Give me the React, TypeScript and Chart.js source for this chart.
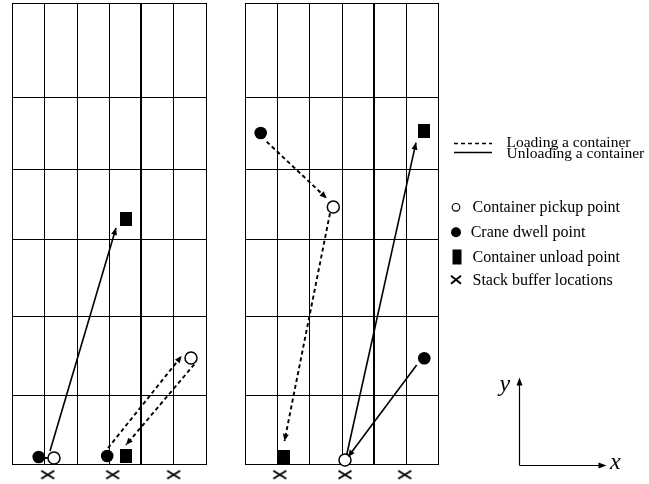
import React, { useEffect, useRef } from "react";
import { Chart, registerables } from "chart.js";

Chart.register(...registerables);

// ---- Data (in yard grid units: 1 unit = one stack column) ----
const panelOffsets = [0, 7.215];
const gridColumns = [0, 1, 2, 3, 4, 5, 6];
const gridRows = [0, 2.139, 4.588, 6.984, 9.145, 11.367, 14.29];
const heavyColumn = 4;

const pickupX = [1.302, 5.549, 9.96, 10.322];
const pickupY = [0.186, 3.286, 7.967, 0.124];

const dwellX = [0.828, 2.951, 7.709, 12.78];
const dwellY = [0.217, 0.248, 10.26, 3.277];

const unloadX = [3.525, 3.525, 8.431, 12.771];
const unloadY = [7.595, 0.242, 0.207, 10.322];

const stackX = [1.107, 3.121, 5.012, 8.301, 10.322, 12.173];
const stackY = [-0.332, -0.332, -0.332, -0.332, -0.332, -0.332];

const arrowStartX = [1.023, 1.178, 2.976, 5.651, 7.895, 9.857, 10.353, 12.545];
const arrowStartY = [0.186, 0.403, 0.496, 3.09, 9.991, 7.771, 0.186, 3.069];
const arrowEndX = [1.116, 3.224, 5.26, 3.534, 9.755, 8.447, 12.523, 10.415];
const arrowEndY = [0.186, 7.316, 3.348, 0.589, 8.236, 0.713, 9.96, 0.217];
const arrowLoading = [false, false, true, true, true, true, false, false];

const legendLineLabels = ["Loading a container", "Unloading a container"];
const legendMarkerLabels = [
  "Container pickup point",
  "Crane dwell point",
  "Container unload point",
  "Stack buffer locations",
];
const axisLabels = ["x", "y"];

// ---- Styles / layout ----
const FONT = '"Liberation Serif", "DejaVu Serif", serif';
const X_MIN = -0.372;
const X_MAX = 19.746;
const Y_MIN = -0.62;
const Y_MAX = 14.383;

function drawArrowHead(ctx: CanvasRenderingContext2D, x1: number, y1: number, x2: number, y2: number, len: number, half: number) {
  const a = Math.atan2(y2 - y1, x2 - x1);
  ctx.beginPath();
  ctx.moveTo(x2, y2);
  ctx.lineTo(x2 - len * Math.cos(a) + half * Math.sin(a), y2 - len * Math.sin(a) - half * Math.cos(a));
  ctx.lineTo(x2 - len * Math.cos(a) - half * Math.sin(a), y2 - len * Math.sin(a) + half * Math.cos(a));
  ctx.closePath();
  ctx.fill();
}

function makeRect(w: number, h: number) {
  const c = document.createElement("canvas");
  c.width = w;
  c.height = h;
  const g = c.getContext("2d")!;
  g.fillStyle = "#000";
  g.fillRect(0, 0, w, h);
  return c;
}

function makeCross(w: number, h: number, lw: number) {
  const c = document.createElement("canvas");
  c.width = w;
  c.height = h;
  const g = c.getContext("2d")!;
  g.strokeStyle = "#000";
  g.lineWidth = lw;
  g.lineCap = "butt";
  g.beginPath();
  g.moveTo(1.5, 1.5);
  g.lineTo(w - 1.5, h - 1.5);
  g.moveTo(w - 1.5, 1.5);
  g.lineTo(1.5, h - 1.5);
  g.stroke();
  return c;
}

const gridPlugin = {
  id: "yardGrid",
  beforeDatasetsDraw(chart: any) {
    const { ctx, scales } = chart;
    const x = scales.x;
    const y = scales.y;
    ctx.save();
    ctx.strokeStyle = "#000";
    for (const off of panelOffsets) {
      const top = Math.round(y.getPixelForValue(gridRows[gridRows.length - 1]));
      const bottom = Math.round(y.getPixelForValue(gridRows[0]));
      const left = Math.round(x.getPixelForValue(off + gridColumns[0]));
      const right = Math.round(x.getPixelForValue(off + gridColumns[gridColumns.length - 1]));
      for (const c of gridColumns) {
        const heavy = c === heavyColumn;
        const px = Math.round(x.getPixelForValue(off + c)) + (heavy ? 0 : 0.5);
        ctx.lineWidth = heavy ? 2 : 1;
        ctx.beginPath();
        ctx.moveTo(px, top);
        ctx.lineTo(px, bottom + 1);
        ctx.stroke();
      }
      ctx.lineWidth = 1;
      for (const r of gridRows) {
        const py = Math.round(y.getPixelForValue(r)) + 0.5;
        ctx.beginPath();
        ctx.moveTo(left, py);
        ctx.lineTo(right + 1, py);
        ctx.stroke();
      }
    }
    ctx.restore();
  },
  afterDatasetsDraw(chart: any) {
    const { ctx, scales } = chart;
    const x = scales.x;
    const y = scales.y;
    ctx.save();
    ctx.fillStyle = "#000";
    for (let i = 0; i < arrowEndX.length; i++) {
      const x1 = x.getPixelForValue(arrowStartX[i]);
      const y1 = y.getPixelForValue(arrowStartY[i]);
      const x2 = x.getPixelForValue(arrowEndX[i]);
      const y2 = y.getPixelForValue(arrowEndY[i]);
      drawArrowHead(ctx, x1, y1, x2, y2, 7, 3);
    }
    ctx.restore();
  },
  afterDraw(chart: any) {
    const ctx: CanvasRenderingContext2D = chart.ctx;
    ctx.save();
    ctx.fillStyle = "#000";
    ctx.strokeStyle = "#000";

    // line legend
    const lineYs = [143.5, 152.5];
    const lineBase = [147, 157.5];
    ctx.lineWidth = 1.6;
    for (let i = 0; i < legendLineLabels.length; i++) {
      ctx.setLineDash(i === 0 ? [4, 3] : []);
      ctx.beginPath();
      ctx.moveTo(454, lineYs[i]);
      ctx.lineTo(492, lineYs[i]);
      ctx.stroke();
    }
    ctx.setLineDash([]);
    ctx.font = `15.5px ${FONT}`;
    ctx.textBaseline = "alphabetic";
    ctx.textAlign = "left";
    for (let i = 0; i < legendLineLabels.length; i++) {
      ctx.fillText(legendLineLabels[i], 506.5, lineBase[i]);
    }

    // marker legend
    const mx = 456;
    const my = [207.3, 232.3, 257, 279.7];
    const mBase = [211.5, 237, 261.5, 284.5];
    const mText = [472.5, 470.7, 472.5, 472.5];
    // open circle
    ctx.lineWidth = 1.2;
    ctx.fillStyle = "#fff";
    ctx.beginPath();
    ctx.arc(mx, my[0], 3.8, 0, Math.PI * 2);
    ctx.fill();
    ctx.stroke();
    ctx.fillStyle = "#000";
    // filled circle
    ctx.beginPath();
    ctx.arc(mx, my[1], 5, 0, Math.PI * 2);
    ctx.fill();
    // rect
    ctx.fillRect(mx - 3.5, my[2] - 7.5, 9, 15);
    // cross
    ctx.lineWidth = 2;
    ctx.beginPath();
    ctx.moveTo(mx - 5, my[3] - 4);
    ctx.lineTo(mx + 5, my[3] + 4);
    ctx.moveTo(mx + 5, my[3] - 4);
    ctx.lineTo(mx - 5, my[3] + 4);
    ctx.stroke();
    ctx.font = `16px ${FONT}`;
    for (let i = 0; i < legendMarkerLabels.length; i++) {
      ctx.fillText(legendMarkerLabels[i], mText[i], mBase[i]);
    }

    // coordinate axes diagram
    const ox = 519.5;
    const oy = 465.5;
    ctx.lineWidth = 1.2;
    ctx.beginPath();
    ctx.moveTo(ox, oy);
    ctx.lineTo(ox, 384);
    ctx.moveTo(ox, oy);
    ctx.lineTo(600, oy);
    ctx.stroke();
    drawArrowHead(ctx, ox, oy, ox, 377.5, 8, 3);
    drawArrowHead(ctx, ox, oy, 606.5, oy, 8, 3);
    ctx.font = `italic 24px ${FONT}`;
    ctx.fillText(axisLabels[0], 610, 468.5);
    ctx.fillText(axisLabels[1], 499.5, 390.5);
    ctx.restore();
  },
};

export default function App() {
  const ref = useRef<HTMLCanvasElement>(null);
  useEffect(() => {
    document.body.style.margin = "0";
    const unloadStyle = makeRect(12, 14);
    const crossStyle = makeCross(16, 11, 2);
    const toPts = (xs: number[], ys: number[]) => xs.map((v, i) => ({ x: v, y: ys[i] }));

    const arrowSets = arrowEndX.map((_, i) => ({
      type: "scatter" as const,
      label: arrowLoading[i] ? "Loading a container" : "Unloading a container",
      data: [
        { x: arrowStartX[i], y: arrowStartY[i] },
        { x: arrowEndX[i], y: arrowEndY[i] },
      ],
      showLine: true,
      pointRadius: 0,
      borderColor: "#000",
      borderWidth: arrowLoading[i] ? 1.9 : 1.6,
      borderDash: arrowLoading[i] ? [4, 3] : [],
      clip: false as any,
    }));

    const chart = new Chart(ref.current!, {
      type: "scatter",
      data: {
        datasets: [
          {
            label: "Container pickup point",
            data: toPts(pickupX, pickupY),
            pointStyle: "circle",
            pointRadius: 6,
            backgroundColor: "#fff",
            borderColor: "#000",
            borderWidth: 1.5,
          },
          {
            label: "Crane dwell point",
            data: toPts(dwellX, dwellY),
            pointStyle: "circle",
            pointRadius: 6.3,
            backgroundColor: "#000",
            borderColor: "#000",
            borderWidth: 0,
          },
          {
            label: "Container unload point",
            data: toPts(unloadX, unloadY),
            pointStyle: unloadStyle as any,
            pointRadius: 7,
          },
          {
            label: "Stack buffer locations",
            data: toPts(stackX, stackY),
            pointStyle: crossStyle as any,
            pointRadius: 7,
          },
          ...arrowSets,
        ] as any,
      },
      options: {
        animation: false,
        responsive: false,
        events: [],
        layout: { padding: 0, autoPadding: false },
        plugins: { legend: { display: false }, tooltip: { enabled: false }, title: { display: false } },
        scales: {
          x: { type: "linear", min: X_MIN, max: X_MAX, display: false },
          y: { type: "linear", min: Y_MIN, max: Y_MAX, display: false },
        },
      },
      plugins: [gridPlugin],
    });
    return () => chart.destroy();
  }, []);

  return (
    <div style={{ position: "fixed", left: 0, top: 0, width: 649, height: 484, background: "#fff" }}>
      <canvas ref={ref} width={649} height={484} style={{ display: "block" }} />
    </div>
  );
}
